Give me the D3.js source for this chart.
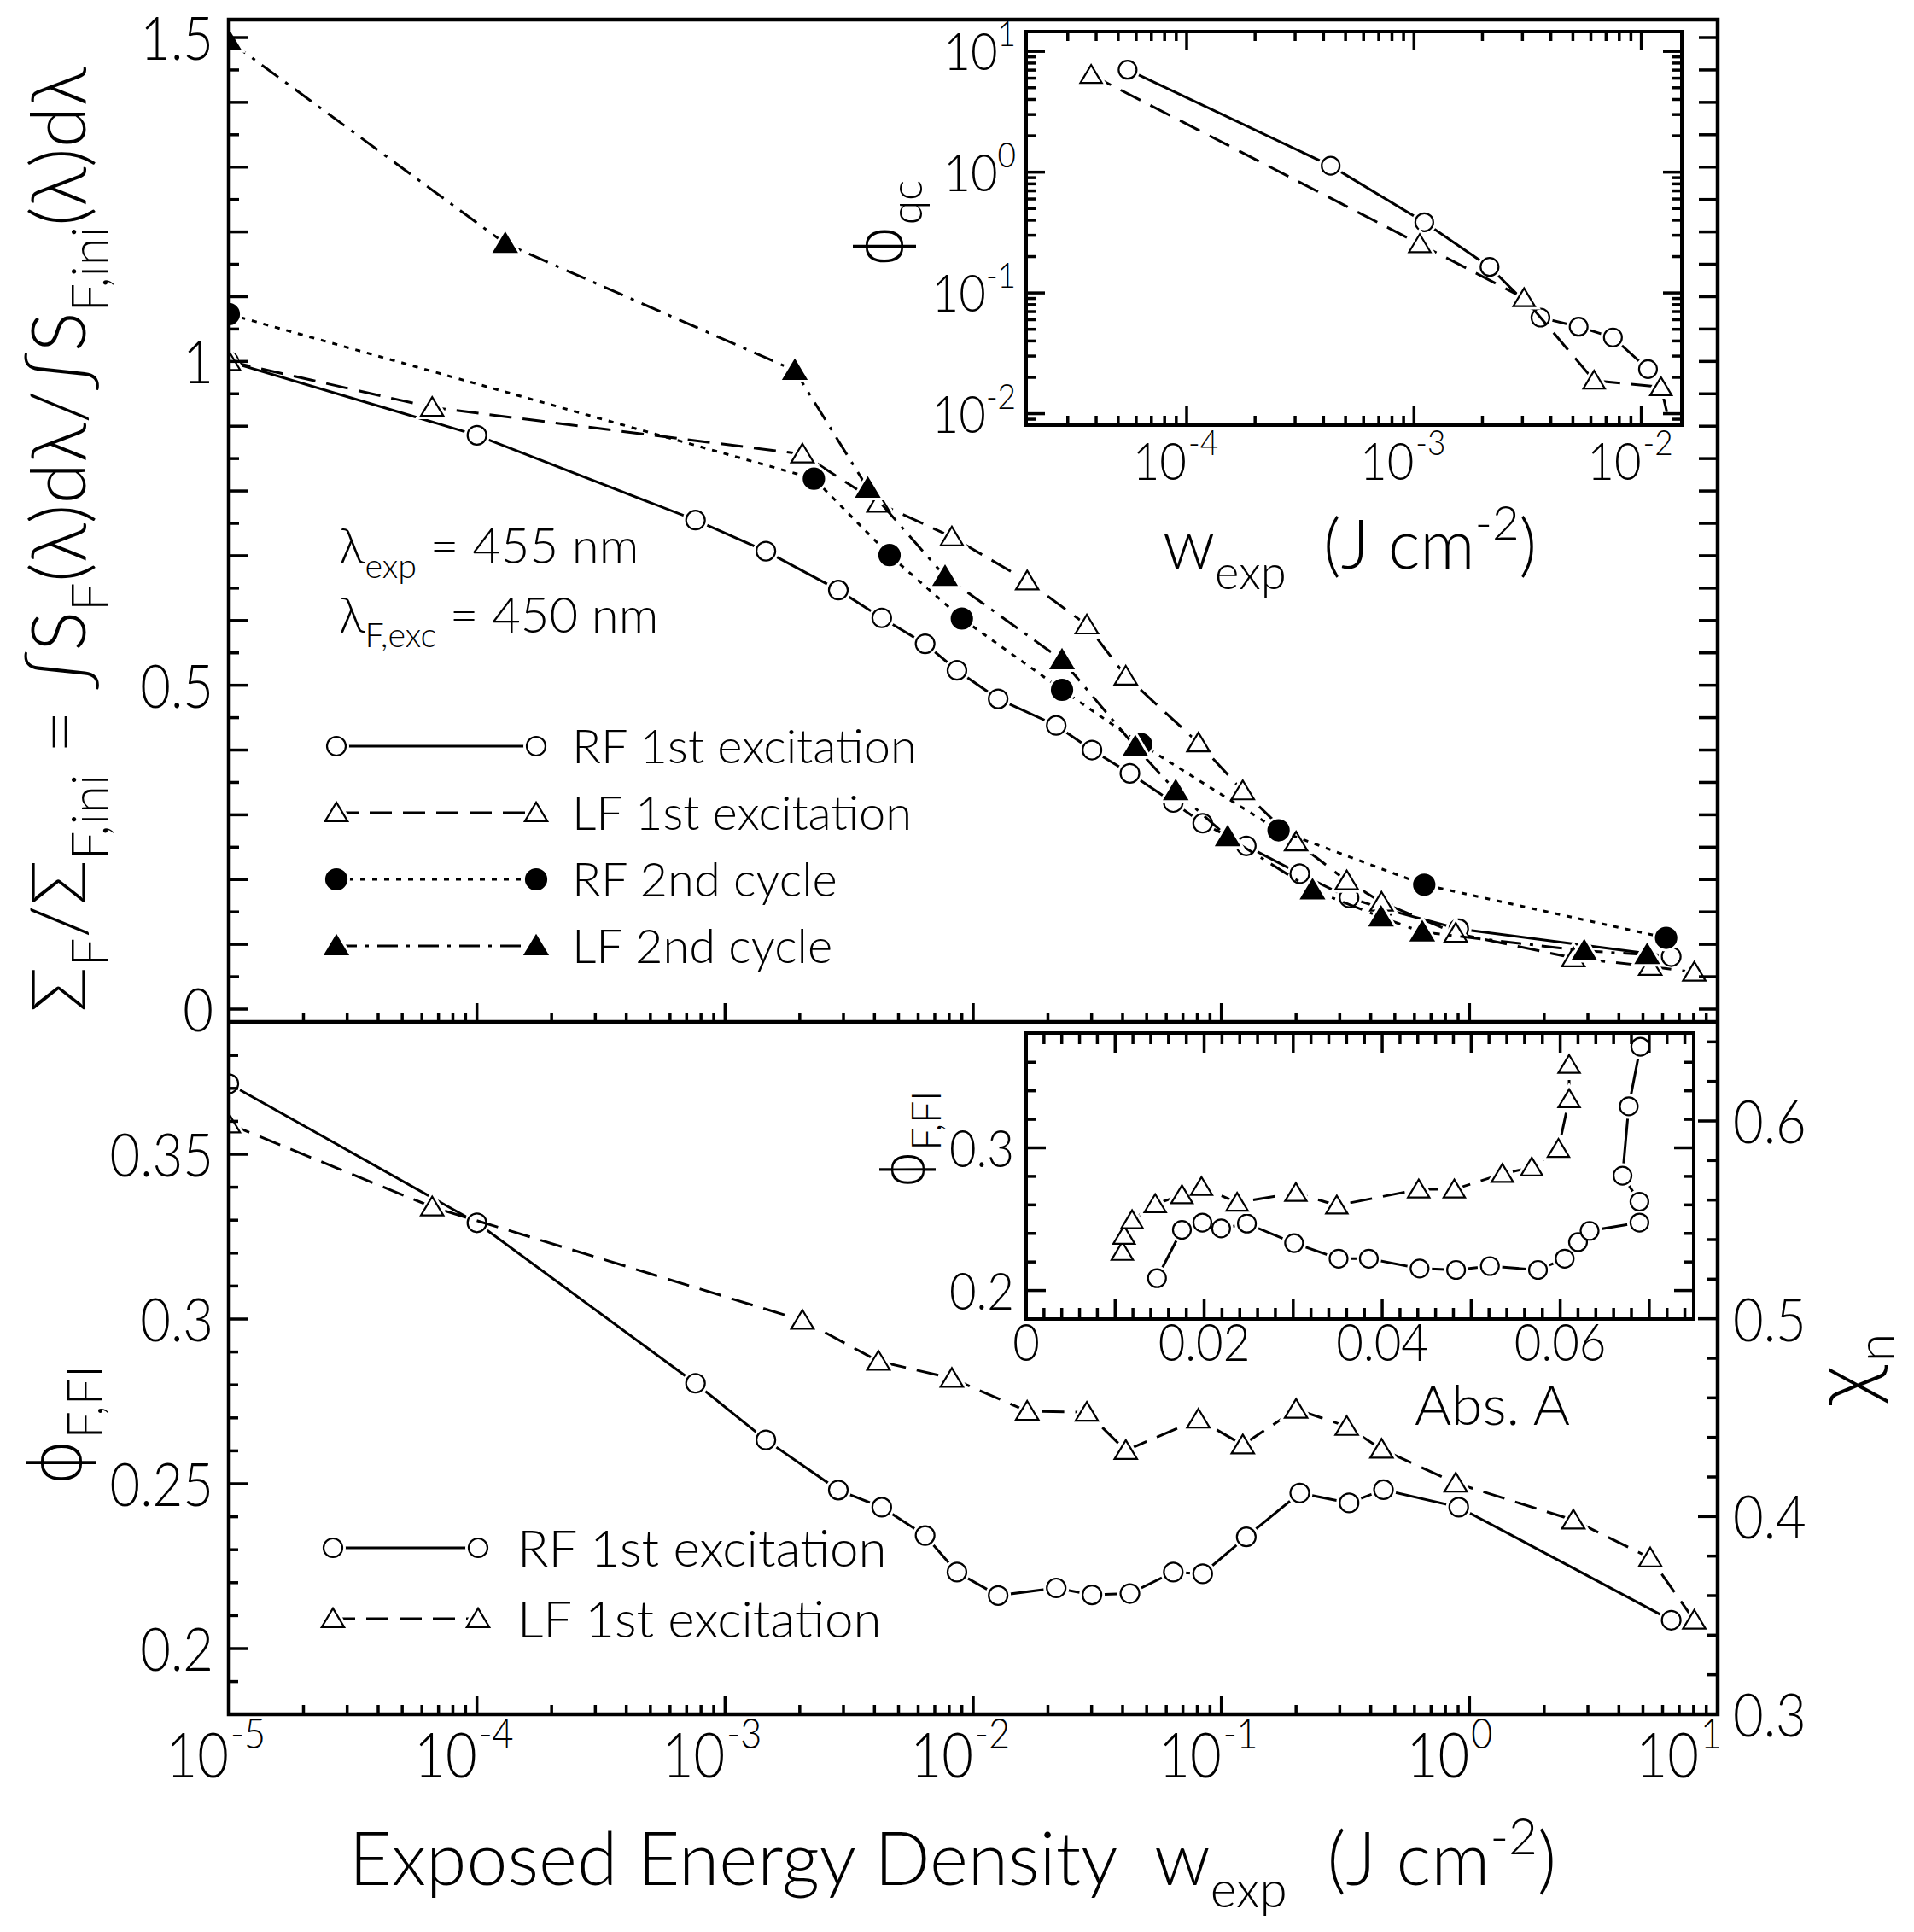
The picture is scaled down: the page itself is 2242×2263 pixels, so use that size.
<!DOCTYPE html>
<html>
<head>
<meta charset="utf-8">
<script src="https://cdn.jsdelivr.net/npm/d3@7"></script>
<style>
body { margin: 0; background: #fff; }
text { font-family: Lato, "Liberation Sans", sans-serif; font-weight: 300; fill: #000; white-space: pre; }
.greek { font-family: "DejaVu Sans", sans-serif; font-weight: 300; }
</style>
</head>
<body>
<svg id="chart"></svg>
<script>
// ---- data ----
// exposures (J cm-2) shared by the top and bottom panels
var rfExposure = [1e-5, 1e-4, 7.6e-4, 1.46e-3, 2.86e-3, 4.28e-3, 6.4e-3, 8.6e-3, 0.0126, 0.0216,
                  0.0301, 0.0428, 0.064, 0.0841, 0.126, 0.207, 0.327, 0.45, 0.905, 6.5];
var lfExposure = [1e-5, 6.6e-5, 2.05e-3, 4.15e-3, 8.2e-3, 0.0165, 0.0287, 0.0412, 0.0808, 0.122,
                  0.2, 0.32, 0.442, 0.88, 2.62, 5.35, 8.05];
var rf2Exposure = [1e-5, 2.28e-3, 4.6e-3, 9.0e-3, 0.0228, 0.0475, 0.17, 0.657, 6.2];
var lf2Exposure = [1e-5, 1.3e-4, 1.91e-3, 3.76e-3, 7.7e-3, 0.0228, 0.045, 0.0655, 0.106, 0.233,
                   0.44, 0.645, 2.9, 5.2];

// top panel: normalised fluorescence
var rfSignal = [1.0, 0.886, 0.755, 0.707, 0.647, 0.604, 0.564, 0.523, 0.479, 0.438,
                0.400, 0.364, 0.319, 0.287, 0.252, 0.209, 0.172, 0.155, 0.124, 0.081];
var lfSignal = [1.0, 0.929, 0.857, 0.781, 0.729, 0.661, 0.593, 0.514, 0.411, 0.337,
                0.258, 0.198, 0.165, 0.117, 0.079, 0.066, 0.057];
var rf2Signal = [1.073, 0.819, 0.701, 0.603, 0.493, 0.409, 0.276, 0.192, 0.110];
var lf2Signal = [1.495, 1.182, 0.986, 0.804, 0.668, 0.539, 0.405, 0.337, 0.266, 0.184,
                 0.142, 0.119, 0.090, 0.084];

// bottom panel: fluorescence quantum yield
var rfPhi = [0.3714, 0.3292, 0.2805, 0.2633, 0.2481, 0.2429, 0.2343, 0.2232, 0.2161, 0.2184,
             0.2163, 0.2167, 0.2232, 0.2227, 0.2339, 0.2472, 0.2442, 0.2482, 0.2429, 0.2086];
var lfPhi = [0.3592, 0.334, 0.2996, 0.2872, 0.282, 0.272, 0.2717, 0.2601, 0.2696, 0.2618,
             0.2726, 0.2674, 0.2605, 0.2502, 0.239, 0.2275, 0.2086];

// top inset: phi_qc vs w_exp
var qcRfW = [5.5e-5, 4.3e-4, 1.11e-3, 2.15e-3, 3.6e-3, 5.3e-3, 7.5e-3, 0.0107];
var qcRfPhi = [7.05, 1.13, 0.385, 0.164, 0.0625, 0.0525, 0.0428, 0.0234];
var qcLfW = [3.8e-5, 1.06e-3, 3.05e-3, 6.2e-3, 0.0122, 0.0146];
var qcLfPhi = [6.4, 0.254, 0.0906, 0.0188, 0.0166, 0.004];

// bottom inset: phi_F,FI vs absorbance
var absRf = [0.0147, 0.0175, 0.0198, 0.0219, 0.0248, 0.0301, 0.0351, 0.0385, 0.0442, 0.0483,
             0.0521, 0.0575, 0.0605, 0.062, 0.0633, 0.0689, 0.0689, 0.067, 0.0677, 0.069];
var absRfPhi = [0.2086, 0.2425, 0.2476, 0.2435, 0.2469, 0.2332, 0.2223, 0.2223, 0.2154, 0.2144,
                0.2171, 0.2144, 0.2223, 0.2339, 0.2418, 0.2476, 0.2623, 0.2805, 0.3291, 0.3709];
var absLf = [0.0108, 0.0110, 0.0119, 0.0145, 0.0175, 0.0197, 0.0237, 0.0303, 0.0349, 0.0441,
             0.0481, 0.0535, 0.0568, 0.0598, 0.061, 0.061];
var absLfPhi = [0.2271, 0.2384, 0.2493, 0.2606, 0.2668, 0.2726, 0.2616, 0.2685, 0.2596, 0.2709,
                0.2709, 0.2818, 0.2863, 0.2993, 0.3342, 0.3582];

var topLegend = ["RF 1st excitation", "LF 1st excitation", "RF 2nd cycle", "LF 2nd cycle"];
var bottomLegend = ["RF 1st excitation", "LF 1st excitation"];
var topYTicks = [0, 0.5, 1, 1.5];
var phiTicks = [0.2, 0.25, 0.3, 0.35];
var chiTicks = [0.3, 0.4, 0.5, 0.6];
var absTicks = [0, 0.02, 0.04, 0.06];
var absPhiTicks = [0.2, 0.3];

// ---- layout ----
var width = 2242, height = 2263;
var L = 268, R = 2012, T = 23, MID = 1197, B = 2008;
var NUMX = 0.88;   // tick numbers are narrower than the text font

var svg = d3.select("#chart").attr("width", width).attr("height", height);

var x = d3.scaleLog().domain([1e-5, 10]).range([L, R]);
var yTop = d3.scaleLinear().domain([0, 1.5]).range([1182, 44]);
var yPhi = d3.scaleLinear().domain([0.2, 0.35]).range([1931, 1352]);
var yChi = d3.scaleLinear().domain([0.3, 0.6]).range([B, 1313]);

var qc = {l: 1202, r: 1970, t: 37, b: 498};
var xQc = d3.scaleLog().domain([Math.pow(10, -4.706), Math.pow(10, -1.822)]).range([qc.l, qc.r]);
var yQc = d3.scaleLog().domain([Math.pow(10, -2.095), Math.pow(10, 1.164)]).range([qc.b, qc.t]);

var ab = {l: 1202, r: 1984, t: 1210, b: 1545};
var xAb = d3.scaleLinear().domain([0, 0.075]).range([ab.l, ab.r]);
var yAb = d3.scaleLinear().domain([0.18, 0.3805]).range([ab.b, ab.t]);

var DASH = {solid: null, dashed: "26,13", dotted: "6,8", dashdot: "24,10,4,10"};

function isDecade(d) {
    var l = Math.log10(d);
    return Math.abs(l - Math.round(l)) < 1e-6;
}

// text with sub / superscript parts
function rich(parent, px, py, parts, size, anchor, rot) {
    var t = parent.append("text").attr("font-size", size).attr("text-anchor", anchor || "start");
    if (rot) t.attr("transform", "translate(" + px + "," + py + ") rotate(" + rot + ")");
    else t.attr("x", px).attr("y", py);
    var shift = 0;
    parts.forEach(function (p) {
        var s = p.sub ? 0.3 : (p.sup ? -0.42 : 0);
        var ts = t.append("tspan").text(p.t);
        if (p.sub || p.sup) ts.attr("font-size", size * 0.68);
        if (p.greek) ts.attr("class", "greek");
        var dy = (s - shift) * size;
        if (dy) ts.attr("dy", dy);
        shift = s;
    });
    return t;
}

// narrow numeric label
function num(g, px, py, str, size, anchor) {
    return g.append("text")
        .attr("transform", "translate(" + px + "," + py + ") scale(" + NUMX + ",1)")
        .attr("font-size", size).attr("text-anchor", anchor || "start").text(str);
}

function ticksV(g, scale, vals, x0, dir, len) {
    g.selectAll(null).data(vals).join("line")
        .attr("x1", x0).attr("x2", function (d) { return x0 + dir * len(d); })
        .attr("y1", function (d) { return scale(d); })
        .attr("y2", function (d) { return scale(d); })
        .attr("stroke", "#000").attr("stroke-width", 3.5);
}

function ticksH(g, scale, vals, y0, dir, len) {
    g.selectAll(null).data(vals).join("line")
        .attr("y1", y0).attr("y2", function (d) { return y0 + dir * len(d); })
        .attr("x1", function (d) { return scale(d); })
        .attr("x2", function (d) { return scale(d); })
        .attr("stroke", "#000").attr("stroke-width", 3.5);
}

function shapePath(shape, r) {
    if (shape === "circle") return d3.symbol(d3.symbolCircle, Math.PI * r * r)();
    return "M0," + (-r * 1.1) + "L" + (r * 1.2) + "," + (r * 0.9) + "L" + (-r * 1.2) + "," + (r * 0.9) + "Z";
}

function drawMarks(g, pts, shape, filled, r) {
    var p = shapePath(shape, r);
    g.selectAll(null).data(pts).join("path")
        .attr("d", p).attr("transform", function (d) { return "translate(" + d[0] + "," + d[1] + ")"; })
        .attr("fill", "#fff").attr("stroke", "#fff").attr("stroke-width", 8);
    g.selectAll(null).data(pts).join("path")
        .attr("d", p).attr("transform", function (d) { return "translate(" + d[0] + "," + d[1] + ")"; })
        .attr("fill", filled ? "#000" : "#fff").attr("stroke", "#000").attr("stroke-width", 2.2);
}

function drawSeries(g, sx, sy, xs, ys, shape, filled, dash, r) {
    var pts = xs.map(function (v, i) { return [sx(v), sy(ys[i])]; });
    g.append("path").attr("d", d3.line()(pts))
        .attr("fill", "none").attr("stroke", "#000").attr("stroke-width", 3)
        .attr("stroke-dasharray", DASH[dash]);
    drawMarks(g, pts, shape, filled, r || 11);
}

function clip(id, x0, y0, w, h) {
    svg.append("clipPath").attr("id", id).append("rect")
        .attr("x", x0).attr("y", y0).attr("width", w).attr("height", h);
    return svg.append("g").attr("clip-path", "url(#" + id + ")");
}

// ---- top panel ----
var gTop = clip("clipTop", L, T, R - L, MID - T);
drawSeries(gTop, x, yTop, rfExposure, rfSignal, "circle", false, "solid");
drawSeries(gTop, x, yTop, lfExposure, lfSignal, "triangle", false, "dashed");
drawSeries(gTop, x, yTop, rf2Exposure, rf2Signal, "circle", true, "dotted", 12);
drawSeries(gTop, x, yTop, lf2Exposure, lf2Signal, "triangle", true, "dashdot");

// ---- bottom panel ----
var gBot = clip("clipBot", L, MID, R - L, B - MID);
drawSeries(gBot, x, yPhi, rfExposure, rfPhi, "circle", false, "solid");
drawSeries(gBot, x, yPhi, lfExposure, lfPhi, "triangle", false, "dashed");

// ---- main frame and axes ----
var axes = svg.append("g");
axes.append("rect").attr("x", L).attr("y", T).attr("width", R - L).attr("height", B - T)
    .attr("fill", "none").attr("stroke", "#000").attr("stroke-width", 4.5);
axes.append("line").attr("x1", L).attr("x2", R).attr("y1", MID).attr("y2", MID)
    .attr("stroke", "#000").attr("stroke-width", 4.5);

var logTicks = x.ticks().filter(function (d) { return d > 1e-5 && d < 10; });
var logLen = function (d) { return isDecade(d) ? 22 : 11; };
ticksH(axes, x, logTicks, MID, -1, logLen);
ticksH(axes, x, logTicks, B, -1, logLen);

var topMinor = d3.range(1, 31).map(function (i) { return i * 0.05; });
ticksV(axes, yTop, topMinor, L, 1, function (d) { return Math.round(d * 20) % 2 === 0 ? 22 : 12; });
ticksV(axes, yTop, topMinor, R, -1, function () { return 22; });
ticksV(axes, yTop, [0], L, 1, function () { return 22; });
ticksV(axes, yTop, [0], R, -1, function () { return 22; });

var phiMinor = d3.range(19, 39).map(function (i) { return i / 100; });
ticksV(axes, yPhi, phiMinor, L, 1, function (d) { return Math.round(d * 100) % 5 === 0 ? 22 : 11; });
var chiMinor = d3.range(16, 33).map(function (i) { return i * 0.02; });
ticksV(axes, yChi, chiMinor, R, -1, function (d) { return Math.round(d * 50) % 5 === 0 ? 23 : 12; });

topYTicks.forEach(function (d) { num(axes, 250, yTop(d) + 26, String(d), 70, "end"); });
phiTicks.forEach(function (d) { num(axes, 250, yPhi(d) + 26, String(d), 70, "end"); });
chiTicks.forEach(function (d) { num(axes, 2030, yChi(d) + 26, String(d), 70, "start"); });
x.ticks().filter(isDecade).forEach(function (d) {
    var e = Math.round(Math.log10(d));
    var px = x(d) >= R - 1 ? x(d) - 22 : x(d);   // last label kept inside the frame
    num(axes, px, 2082, "10", 72, "end");
    num(axes, px + 2, 2048, String(e), 49, "start");
});

// axis titles
rich(axes, 1116, 2208, [{t: "Exposed Energy Density  w"}, {t: "exp", sub: true}, {t: "  (J cm"},
    {t: "-2", sup: true}, {t: ")"}], 86, "middle");
rich(axes, 100, 632, [{t: "Σ"}, {t: "F", sub: true}, {t: "/Σ"}, {t: "F,ini", sub: true},
    {t: " = ∫S"}, {t: "F", sub: true}, {t: "(λ)dλ/∫S"}, {t: "F,ini", sub: true}, {t: "(λ)dλ"}],
    88, "middle", -90);
rich(axes, 95, 1670, [{t: "ϕ", greek: true}, {t: "F,FI", sub: true}], 84, "middle", -90);
rich(axes, 2192, 1605, [{t: "χ", greek: true}, {t: "n", sub: true}], 90, "middle", -90);

// annotation
rich(axes, 397, 660, [{t: "λ"}, {t: "exp", sub: true}, {t: " = 455 nm"}], 58, "start");
rich(axes, 397, 741, [{t: "λ"}, {t: "F,exc", sub: true}, {t: " = 450 nm"}], 58, "start");

// legends
var topStyles = [["circle", false, "solid", 11], ["triangle", false, "dashed", 11],
                 ["circle", true, "dotted", 12], ["triangle", true, "dashdot", 11]];
function legendRow(g, x1, x2, tx, y, label, st, size) {
    g.append("line").attr("x1", x1).attr("x2", x2).attr("y1", y).attr("y2", y)
        .attr("stroke", "#000").attr("stroke-width", 3).attr("stroke-dasharray", DASH[st[2]]);
    drawMarks(g, [[x1, y], [x2, y]], st[0], st[1], st[3]);
    g.append("text").attr("x", tx).attr("y", y + size * 0.36).attr("font-size", size).text(label);
}
topLegend.forEach(function (label, i) {
    legendRow(axes, 394, 628, 670, 874 + i * 78, label, topStyles[i], 56);
});
bottomLegend.forEach(function (label, i) {
    legendRow(axes, 390, 560, 606, 1813 + i * 83, label, topStyles[i], 60);
});

// ---- top inset ----
var gi = svg.append("g");
gi.append("rect").attr("x", qc.l).attr("y", qc.t).attr("width", qc.r - qc.l).attr("height", qc.b - qc.t)
    .attr("fill", "#fff");
var gqc = clip("clipQc", qc.l, qc.t, qc.r - qc.l, qc.b - qc.t);
drawSeries(gqc, xQc, yQc, qcRfW, qcRfPhi, "circle", false, "solid", 10.5);
drawSeries(gqc, xQc, yQc, qcLfW, qcLfPhi, "triangle", false, "dashed", 10.5);
var gia = svg.append("g");
gia.append("rect").attr("x", qc.l).attr("y", qc.t).attr("width", qc.r - qc.l).attr("height", qc.b - qc.t)
    .attr("fill", "none").attr("stroke", "#000").attr("stroke-width", 4);
var qxT = xQc.ticks().filter(function (d) { return xQc(d) > qc.l + 3 && xQc(d) < qc.r - 3; });
var qyT = yQc.ticks().filter(function (d) { return yQc(d) < qc.b - 3 && yQc(d) > qc.t + 3; });
var qLen = function (d) { return isDecade(d) ? 22 : 11; };
ticksH(gia, xQc, qxT, qc.b, -1, qLen);
ticksH(gia, xQc, qxT, qc.t, 1, qLen);
ticksV(gia, yQc, qyT, qc.l, 1, qLen);
ticksV(gia, yQc, qyT, qc.r, -1, qLen);
qxT.filter(isDecade).forEach(function (d) {
    var e = Math.round(Math.log10(d));
    num(gia, xQc(d), 562, "10", 62, "end");
    num(gia, xQc(d) + 2, 533, String(e), 42, "start");
});
qyT.filter(isDecade).forEach(function (d) {
    var e = Math.round(Math.log10(d));
    var t = num(gia, 1190, yQc(d) + 22, "10", 62, "end");
    t.append("tspan").attr("dy", -28).attr("font-size", 42).text(String(e));
});
rich(gia, 1581, 666, [{t: "w"}, {t: "exp", sub: true}, {t: "  (J cm"}, {t: "-2", sup: true}, {t: ")"}],
    80, "middle");
rich(gia, 1057, 262, [{t: "ϕ", greek: true}, {t: "qc", sub: true}], 76, "middle", -90);

// ---- bottom inset ----
var gb = svg.append("g");
gb.append("rect").attr("x", ab.l).attr("y", ab.t).attr("width", ab.r - ab.l).attr("height", ab.b - ab.t)
    .attr("fill", "#fff");
var gab = clip("clipAb", ab.l, ab.t, ab.r - ab.l, ab.b - ab.t);
drawSeries(gab, xAb, yAb, absRf, absRfPhi, "circle", false, "solid", 10.5);
drawSeries(gab, xAb, yAb, absLf, absLfPhi, "triangle", false, "dashed", 10.5);
var gba = svg.append("g");
gba.append("rect").attr("x", ab.l).attr("y", ab.t).attr("width", ab.r - ab.l).attr("height", ab.b - ab.t)
    .attr("fill", "none").attr("stroke", "#000").attr("stroke-width", 4);
var axT = d3.range(1, 38).map(function (i) { return i * 0.002; });
var axLen = function (d) { return Math.round(d * 500) % 5 === 0 ? 23 : 13; };
ticksH(gba, xAb, axT, ab.b, -1, axLen);
ticksH(gba, xAb, axT, ab.t, 1, axLen);
var ayT = d3.range(10, 19).map(function (i) { return i * 0.02; });
var ayLen = function (d) { return Math.round(d * 50) % 5 === 0 ? 23 : 12; };
ticksV(gba, yAb, ayT, ab.l, 1, ayLen);
ticksV(gba, yAb, ayT, ab.r, -1, ayLen);
absTicks.forEach(function (d) { num(gba, xAb(d), 1594, String(d), 62, "middle"); });
absPhiTicks.forEach(function (d) { num(gba, 1188, yAb(d) + 22, String(d), 62, "end"); });
gba.append("text").attr("x", 1748).attr("y", 1669).attr("font-size", 66)
    .attr("text-anchor", "middle").text("Abs. A");
rich(gba, 1082, 1335, [{t: "ϕ", greek: true}, {t: "F,FI", sub: true}], 68, "middle", -90);
</script>
</body>
</html>
